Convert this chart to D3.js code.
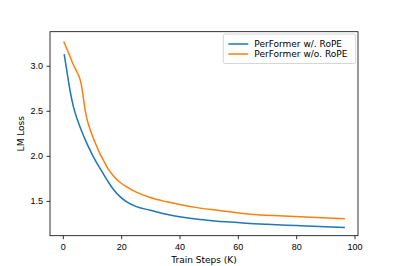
<!DOCTYPE html>
<html>
<head>
<meta charset="utf-8">
<script src="https://cdn.jsdelivr.net/npm/d3@7"></script>
<style>
  body { margin: 0; background: #fff; }
  svg { display: block; font-family: "DejaVu Sans", sans-serif; }
  .tick text { font-size: 9px; fill: #000; }
</style>
</head>
<body>
<div id="chart"></div>
<script>
const SERIES_NAMES = ['PerFormer w/. RoPE', 'PerFormer w/o. RoPE']
const COLORS = ['#1f77b4', '#ff7f0e']

// train steps (K), loss
const ROPE_STEPS = [0.45, 1.1, 2.5, 3.6, 5, 7.4, 10.3, 13.9, 15.6, 17.3, 19.5, 21.9, 25, 29.9, 35, 40, 47, 53, 60, 64.3, 70, 80, 90, 96.7]
const ROPE_LOSS = [3.13, 3.0, 2.72, 2.55, 2.40, 2.2, 2.0, 1.80, 1.71, 1.63, 1.55, 1.49, 1.44, 1.397, 1.355, 1.325, 1.293, 1.275, 1.26, 1.25, 1.24, 1.226, 1.213, 1.206]

const NOROPE_STEPS = [0.3, 2, 3.5, 5, 5.8, 6.5, 7.1, 7.8, 8.6, 9.5, 10.7, 12.8, 13.9, 15.5, 17.3, 19.5, 21.9, 25, 29.9, 35.7, 40, 47, 52.8, 64.3, 75.6, 85, 96.7]
const NOROPE_LOSS = [3.27, 3.14, 3.02, 2.92, 2.86, 2.76, 2.63, 2.48, 2.37, 2.28, 2.175, 2.02, 1.952, 1.855, 1.78, 1.71, 1.656, 1.60, 1.538, 1.49, 1.46, 1.42, 1.397, 1.352, 1.333, 1.318, 1.303]

const X_TICKS = [0, 20, 40, 60, 80, 100]
const Y_TICKS = [1.5, 2.0, 2.5, 3.0]

const W = 399, H = 266
const mLeft = 50, mRight = 358, mTop = 31.7, mBottom = 235.7

const svg = d3.select('#chart').append('svg')
    .attr('width', W)
    .attr('height', H)

const x = d3.scaleLinear().domain([-4.4, 101.2]).range([mLeft, mRight])
const y = d3.scaleLinear().domain([1.114, 3.378]).range([mBottom, mTop])

const series = [
    ROPE_STEPS.map((s, i) => [s, ROPE_LOSS[i]]),
    NOROPE_STEPS.map((s, i) => [s, NOROPE_LOSS[i]]),
]

const line = d3.line()
    .x(d => x(d[0]))
    .y(d => y(d[1]))
    .curve(d3.curveMonotoneX)

svg.append('g')
    .selectAll('path')
    .data(series)
    .join('path')
        .attr('d', line)
        .attr('fill', 'none')
        .attr('stroke', (_, i) => COLORS[i])
        .attr('stroke-width', 1.5)

// axes
const xAxis = svg.append('g')
    .attr('transform', `translate(0,${mBottom})`)
    .call(d3.axisBottom(x).tickValues(X_TICKS).tickSize(3.5).tickPadding(4).tickFormat(d3.format('d')))
const yAxis = svg.append('g')
    .attr('transform', `translate(${mLeft},0)`)
    .call(d3.axisLeft(y).tickValues(Y_TICKS).tickSize(3.5).tickPadding(3.5).tickFormat(d3.format('.1f')))

for (const a of [xAxis, yAxis]) {
    a.select('.domain').remove()
    a.selectAll('.tick line').attr('stroke', '#000').attr('stroke-width', 0.8)
}

// frame
svg.append('rect')
    .attr('x', mLeft)
    .attr('y', mTop)
    .attr('width', mRight - mLeft)
    .attr('height', mBottom - mTop)
    .attr('fill', 'none')
    .attr('stroke', '#000')
    .attr('stroke-width', 0.8)

svg.append('text')
    .attr('x', (mLeft + mRight) / 2)
    .attr('y', 262.5)
    .attr('text-anchor', 'middle')
    .attr('font-size', 9)
    .text('Train Steps (K)')

svg.append('text')
    .attr('transform', `translate(24,${(mTop + mBottom) / 2}) rotate(-90)`)
    .attr('text-anchor', 'middle')
    .attr('font-size', 9)
    .text('LM Loss')

// legend
const legend = svg.append('g').attr('transform', 'translate(223.3,34)')
legend.append('rect')
    .attr('width', 132.4)
    .attr('height', 29.5)
    .attr('rx', 2)
    .attr('fill', '#fff')
    .attr('fill-opacity', 0.8)
    .attr('stroke', '#ccc')
    .attr('stroke-width', 0.8)

const items = legend.selectAll('g.item')
    .data(SERIES_NAMES)
    .join('g')
        .attr('class', 'item')
        .attr('transform', (_, i) => `translate(0,${10 + 10 * i})`)

items.append('line')
    .attr('x1', 5)
    .attr('x2', 25)
    .attr('stroke', (_, i) => COLORS[i])
    .attr('stroke-width', 1.5)

items.append('text')
    .attr('x', 31)
    .attr('dy', '0.35em')
    .attr('font-size', 9)
    .text(d => d)
</script>
</body>
</html>
